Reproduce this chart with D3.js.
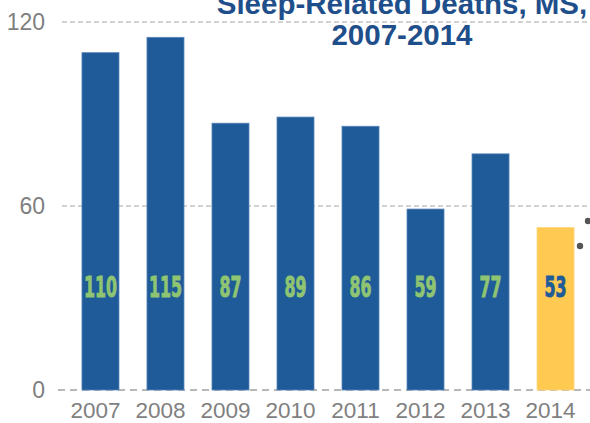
<!DOCTYPE html>
<html><head><meta charset="utf-8">
<script src="https://cdn.jsdelivr.net/npm/d3@7"></script>
<style>body{margin:0;background:#fff;}svg{display:block;}</style>
</head><body>
<svg id="c" width="590" height="423"></svg>
<script>
const years = ["2007","2008","2009","2010","2011","2012","2013","2014"];
const deaths = [110,115,87,89,86,59,77,53];
const highlight = ["2014"];
const yTicks = [0,60,120];
const titleLines = ["Sleep-Related Deaths, MS,","2007-2014"];

const svg = d3.select("#c");
const x = d3.scaleBand().domain(years).range([60,596]).paddingInner(0.4308).paddingOuter(0.338);
const y = d3.scaleLinear().domain([0,120]).range([390,22]);

// gridlines
svg.append("g").selectAll("line").data(yTicks).join("line")
  .attr("x1", d => d===0 ? 58 : 62).attr("x2", 592)
  .attr("y1", d => y(d)).attr("y2", d => y(d))
  .attr("stroke", d => d===0 ? "#b8b8b8" : "#a8a8a8")
  .attr("stroke-width", d => d===0 ? 2 : 1.2)
  .attr("stroke-dasharray", d => d===0 ? "7,5" : "5,3");

// y labels
svg.append("g").selectAll("text").data(yTicks).join("text")
  .attr("x", 45).attr("y", d => y(d)).attr("dy","0.36em")
  .attr("text-anchor","end")
  .attr("font-family","'Liberation Sans', Arial, sans-serif")
  .attr("font-size",23).attr("fill","#7f7f7f").text(d=>d);

// bars
svg.append("g").selectAll("rect").data(years).join("rect")
  .attr("x", d => x(d)).attr("width", x.bandwidth())
  .attr("y", (d,i) => y(deaths[i])).attr("height", (d,i) => y(0)-y(deaths[i]))
  .attr("fill", d => highlight.includes(d) ? "#ffc952" : "#1f5b98")
  .attr("stroke", d => highlight.includes(d) ? "#ffd77e" : "#5584b8")
  .attr("stroke-width", 0.8);

// value labels
svg.append("g").selectAll("text").data(years).join("text")
  .attr("transform", d => `translate(${x(d)+x.bandwidth()/2},297) scale(0.64,1)`)
  .attr("text-anchor","middle")
  .attr("font-family","'DejaVu Sans Condensed','DejaVu Sans', sans-serif")
  .attr("font-weight","bold").attr("font-size",27.5)
  .attr("fill", d => highlight.includes(d) ? "#1f5b98" : "#8fc472")
  .attr("stroke", d => highlight.includes(d) ? "#1f5b98" : "#8fc472")
  .attr("stroke-width", 0.9)
  .text((d,i)=>deaths[i]);

// x labels
svg.append("g").selectAll("text").data(years).join("text")
  .attr("x", d => x(d)+x.bandwidth()/2 - 5).attr("y", 418)
  .attr("text-anchor","middle")
  .attr("font-family","'Liberation Sans', Arial, sans-serif")
  .attr("font-size",22.5).attr("fill","#7f7f7f").text(d=>d);

// title
svg.append("g").selectAll("text").data(titleLines).join("text")
  .attr("x", 402).attr("y", (d,i) => i===0 ? 14 : 45)
  .attr("text-anchor","middle")
  .attr("font-family","'Liberation Sans', Arial, sans-serif")
  .attr("font-weight","bold").attr("font-size",29.5)
  .attr("fill","#1f4f8b").text(d=>d);

// bullet dots at right edge
svg.append("g").selectAll("circle").data([[588,221],[580,246]]).join("circle")
  .attr("cx", d=>d[0]).attr("cy", d=>d[1]).attr("r",3.2).attr("fill","#555");
</script>
</body></html>
